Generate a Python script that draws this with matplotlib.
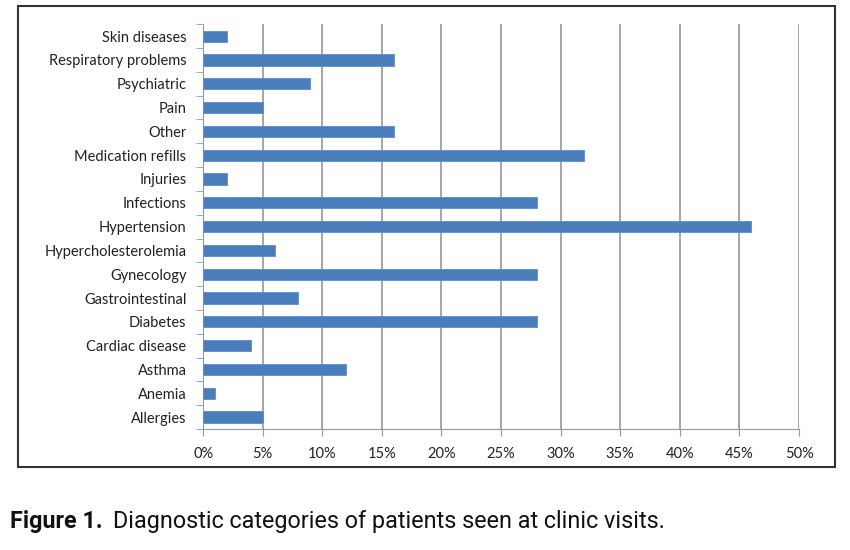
import matplotlib
matplotlib.use("Agg")
import matplotlib.pyplot as plt
from matplotlib.patches import Rectangle
from matplotlib.ticker import MultipleLocator, FuncFormatter
import numpy as np

categories = ["Skin diseases", "Respiratory problems", "Psychiatric", "Pain", "Other",
              "Medication refills", "Injuries", "Infections", "Hypertension",
              "Hypercholesterolemia", "Gynecology", "Gastrointestinal", "Diabetes",
              "Cardiac disease", "Asthma", "Anemia", "Allergies"]
values = [2, 16, 9, 5, 16, 32, 2, 28, 46, 6, 28, 8, 28, 4, 12, 1, 5]

fig = plt.figure(figsize=(8.5, 5.5), dpi=100)
ax = fig.add_axes([0.239, 0.22, 0.701, 0.736])

y = np.arange(len(categories))
ax.barh(y, values, height=0.47, color="#4A7EBB", edgecolor="#5B8FD0", linewidth=0.6, zorder=3)
ax.set_yticks(y)
ax.set_yticklabels(categories, fontsize=10.5, family="Lato", color="#222222")
ax.set_ylim(len(categories) - 0.5, -0.5)
ax.set_yticks(np.arange(-0.5, len(categories), 1), minor=True)
ax.tick_params(axis="y", which="major", length=0, pad=12)
ax.tick_params(axis="y", which="minor", length=5, color="#999999", direction="out")

ax.set_xlim(0, 50)
ax.xaxis.set_major_locator(MultipleLocator(5))
ax.xaxis.set_major_formatter(FuncFormatter(lambda v, p: f"{int(v)}%"))
ax.tick_params(axis="x", labelsize=10.5, length=5, color="#999999", pad=8, labelcolor="#222222")
for lab in ax.get_xticklabels():
    lab.set_family("Lato")
ax.grid(axis="x", color="#A6A6A6", linewidth=1.4, zorder=0)

for s in ["top", "right"]:
    ax.spines[s].set_visible(False)
ax.spines["left"].set_color("#999999")
ax.spines["bottom"].set_color("#999999")

fig.patches.append(Rectangle((18 / 850, 1 - 467 / 550), 817 / 850, 461 / 550,
                             transform=fig.transFigure, fill=False,
                             edgecolor="#333333", linewidth=1.5))

t1 = fig.text(10 / 850, 0.04, "Figure 1.", fontsize=16.8, fontweight="bold",
              family="Roboto", color="#111111")
fig.canvas.draw()
bb = t1.get_window_extent()
fig.text((bb.x1 + 10) / 850, 0.04, "Diagnostic categories of patients seen at clinic visits.",
         fontsize=16.8, family="Roboto", color="#111111")

plt.savefig("out.png", dpi=100)
